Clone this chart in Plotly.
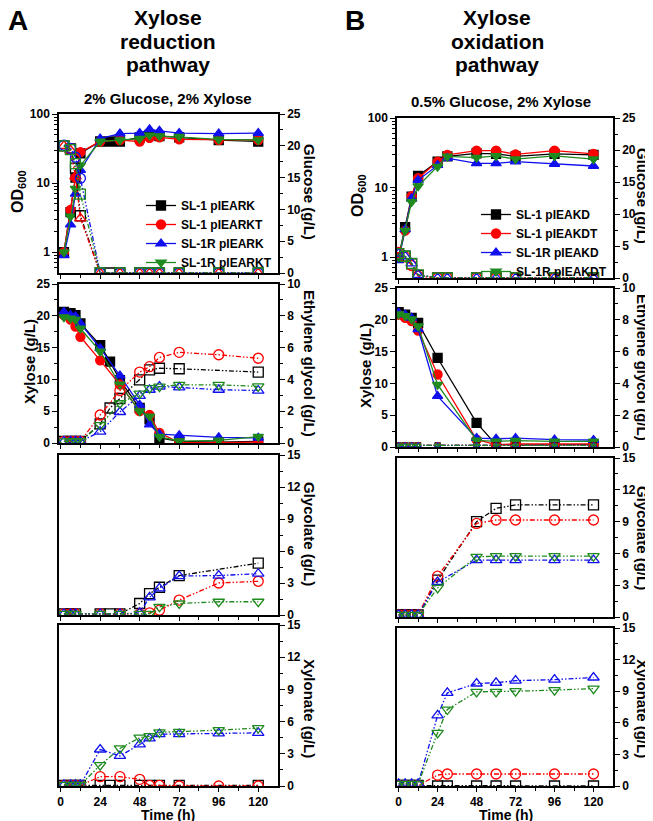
import plotly.graph_objects as go
from plotly.subplots import make_subplots

W, H = 653, 821
OFF = 8  # page body margin
FONT = "Liberation Sans, Arial, sans-serif"

# ---------------- data: panel A (xylose reduction pathway) ----------------
tA = [2, 6, 9, 12, 24, 30, 36, 48, 54, 60, 72, 96, 120]
strainsA = ["SL-1 pIEARK", "SL-1 pIEARKT", "SL-1R pIEARK", "SL-1R pIEARKT"]

od_A = [
    [1.0, 3.8, 12, 27, 40, 40, 40, 46, 50, 48, 46, 42, 40],
    [1.0, 4.1, 12, 28, 40, None, 42, 40, 45, 46, 43, 42, 42],
    [0.9, 2.5, 7.0, 15.4, 44, None, 52, 53, 60, 57, 53, 52, 53],
    [1.0, 3.3, 8.3, 18, 40, None, 42, 44, 49, 48, 47, 43, 42],
]
glucose_A = [
    [20.0, 19.5, 16.5, 9.0, 0, 0, 0, 0, 0, 0, 0, 0, 0],
    [20.0, 19.3, 15.2, 8.6, 0, None, 0, 0, 0, 0, 0, 0, 0],
    [20.1, 19.6, 18.2, 14.9, 0, None, 0, 0, 0, 0, 0, 0, 0],
    [20.0, 19.4, 17.2, 12.4, 0, None, 0, 0, 0, 0, 0, 0, 0],
]
xylose_A = [
    [20.6, 20.4, 20.1, 18.8, 15.4, 12.8, 9.9, 5.5, 3.7, 0.8, 0.26, 0.15, 0.25],
    [20.1, 19.4, 18.3, 16.7, 13.0, None, 9.2, 5.0, 4.4, 1.6, 0.05, 0.05, 0.15],
    [20.6, 20.1, 19.9, 18.8, 14.9, None, 10.6, 6.0, 2.9, 1.4, 1.2, 0.9, 0.8],
    [19.8, 19.6, 19.4, 18.0, 14.4, None, 9.2, 5.0, 4.2, 1.0, 0.3, 0.4, 1.0],
]
eg_A = [
    [0.1, 0.1, 0.1, 0.1, 1.2, 2.2, 2.8, 3.97, 4.6, 4.7, 4.67, None, 4.46],
    [0.1, 0.1, 0.1, 0.1, 1.76, None, 3.3, 4.46, 4.8, 5.38, 5.7, 5.55, 5.33],
    [0.1, 0.1, 0.1, 0.1, 0.71, None, 1.95, 2.97, 3.35, 3.55, 3.5, 3.35, 3.3],
    [0.1, 0.1, 0.1, 0.1, 1.13, None, 2.5, 3.1, 3.45, 3.55, 3.66, 3.66, 3.56],
]
glycolate_A = [
    [0.1, 0.1, 0.1, None, 0.1, 0.1, 0.1, 1.08, 2.0, 2.6, 3.7, None, 4.86],
    [0.1, 0.1, 0.1, None, 0.1, None, 0.1, 0.1, 0.2, 0.45, 1.4, 3.0, 3.16],
    [0.1, 0.1, 0.1, None, 0.1, None, 0.1, 0.2, 1.65, 2.5, 3.65, 3.7, 3.87],
    [0.1, 0.1, 0.1, None, 0.1, None, 0.1, 0.1, 0.1, 0.77, 1.08, 1.24, 1.24],
]
xylonate_A = [
    [0.05, 0.05, 0.05, 0.05, 0.05, 0.05, 0.05, 0.05, 0.05, 0.05, 0.05, None, 0.05],
    [0.05, 0.05, 0.05, 0.05, 0.87, None, 0.87, 0.62, 0.05, 0.05, 0.0, 0.0, 0.0],
    [0.1, 0.1, 0.1, 0.1, 3.4, None, 2.8, 3.87, 4.43, 4.83, 4.83, 4.9, 4.95],
    [0.1, 0.1, 0.1, 0.1, 1.95, None, 3.5, 4.5, 4.64, 5.0, 5.05, 5.2, 5.4],
]

# ---------------- data: panel B (xylose oxidation pathway) ----------------
tB = [0, 4, 8, 12, 24, 30, 48, 60, 72, 96, 120]
strainsB = ["SL-1 pIEAKD", "SL-1 pIEAKDT", "SL-1R pIEAKD", "SL-1R pIEAKDT"]

od_B = [
    [1.0, 2.7, 7.4, 14.7, 23.6, 28, 31, 30.5, 28, 30.5, 29.5],
    [1.0, 2.4, 7.5, 13.6, 23.6, 29.5, 34, 34, 30, 34, 30.5],
    [0.9, 2.5, 7.0, 12.8, 21, 26.5, 22.3, 22.3, 23.6, 21.8, 20.4],
    [1.0, 2.4, 6.2, 10.5, 20, 28, 27, 28.5, 25.6, 28.5, 25.6],
]
glucose_B = [
    [3.8, 3.4, 2.2, 0.4, 0, 0, 0, 0, 0, 0, 0],
    [4.0, 3.3, 1.95, 0.3, 0, 0, 0, 0, 0, 0, 0],
    [3.8, 3.4, 2.3, 0.5, 0, 0, 0, 0, 0, 0, 0],
    [3.8, 3.4, 2.3, 0.5, 0, 0, 0, 0, 0, 0, 0],
]
xylose_B = [
    [21.2, 20.8, 20.3, 19.5, 14.0, None, 3.8, 0.37, 0.3, 0.37, 0.37],
    [20.8, 20.3, 19.8, 18.3, 11.4, None, 1.15, 0.37, 0.47, 0.47, 0.47],
    [21.1, 20.8, 20.3, 18.5, 8.0, None, 1.4, 1.3, 1.4, 1.15, 1.1],
    [20.9, 20.6, 20.1, 19.0, 9.8, None, 1.05, 0.9, 1.0, 0.9, 0.9],
]
eg_B = [
    [0.1, 0.1, 0.1, 0.1, 0.1, None, 0.1, 0.1, 0.1, 0.1, 0.1],
    [0.1, 0.1, 0.1, 0.1, 0.1, None, 0.1, 0.1, 0.1, 0.1, 0.1],
    [0.1, 0.1, 0.1, 0.1, 0.1, None, 0.1, 0.1, 0.1, 0.1, 0.1],
    [0.1, 0.1, 0.1, 0.1, 0.1, None, 0.1, 0.1, 0.1, 0.1, 0.1],
]
glycolate_B = [
    [0.2, 0.2, 0.2, 0.2, 3.47, None, 9.0, 10.25, 10.57, 10.57, 10.57],
    [0.2, 0.2, 0.2, 0.2, 3.85, None, 8.83, 9.15, 9.15, 9.15, 9.15],
    [0.2, 0.2, 0.2, 0.2, 3.3, None, 5.36, 5.36, 5.36, 5.36, 5.36],
    [0.2, 0.2, 0.2, 0.2, 2.75, None, 5.68, 5.74, 5.74, 5.74, 5.74],
]
xylonate_B = [
    [0.05, 0.05, 0.05, 0.05, 0.0, 0.0, 0.0, 0.0, 0.0, 0.0, 0.0],
    [0.05, 0.05, 0.05, 0.05, 1.04, 1.14, 1.14, 1.14, 1.14, 1.14, 1.14],
    [0.2, 0.2, 0.2, 0.2, 6.7, 8.84, 9.73, 9.8, 10.0, 10.1, 10.3],
    [0.2, 0.2, 0.2, 0.2, 5.05, 7.26, 8.94, 8.94, 9.0, 9.1, 9.25],
]

colors = ["#000000", "#ff0000", "#1010ee", "#1f8a1f"]
filled = ["square", "circle", "triangle-up", "triangle-down"]
opened = ["square-open", "circle-open", "triangle-up-open", "triangle-down-open"]
glc_open_A = ["square-open", "triangle-up-open", "circle-open", "square-open"]
glc_open_B = ["square-open", "circle-open", "triangle-up-open", "square-open"]
DASH = "5px,2px,1.5px,2px,1.5px,2px"

# ---------------- layout geometry (window pixels) ----------------
cols_px = [(59, 278), (397, 613)]
rows_px = [
    [(114, 273), (284, 443), (455, 615), (625, 786)],
    [(118, 278), (288, 447), (458, 617), (628, 786)],
]


def px(x):
    return (x - OFF) / W


def py(y):
    return 1 - (y - OFF) / H


# rows 3-4 have a single (right-hand) scale, so no secondary axis there
fig = make_subplots(rows=4, cols=2,
                    specs=[[{"secondary_y": True}] * 2] * 2 + [[{}, {}]] * 2)


def add_series(r, c, sec, t, ys, syms, names=None, solid=False, legend=None, size=9):
    for i, y in enumerate(ys):
        kw = dict(secondary_y=sec) if r <= 2 else {}
        fig.add_trace(go.Scatter(
            x=t, y=y, mode="lines+markers", connectgaps=True,
            name=names[i] if names else "series",
            showlegend=legend is not None, legend=legend,
            line=dict(color=colors[i], width=1.3, dash="solid" if solid else DASH),
            marker=dict(symbol=syms[i], size=size, color=colors[i],
                        line=dict(color=colors[i], width=1.3)),
        ), row=r, col=c, **kw)


tickfont = dict(family=FONT, size=12, color="black", weight="bold")
axis_common = dict(showline=True, linecolor="black", linewidth=1.5, showgrid=False,
                   zeroline=False, tickfont=tickfont, automargin=False,
                   ticks="outside", ticklen=5, tickwidth=1.3, tickcolor="black")


def minor(vals):
    return dict(tickvals=vals, ticks="outside", ticklen=3, tickwidth=1, tickcolor="black")


panels = [
    (tA, [(od_A, glucose_A, glc_open_A), (xylose_A, eg_A), glycolate_A, xylonate_A],
     strainsA, "legend"),
    (tB, [(od_B, glucose_B, glc_open_B), (xylose_B, eg_B), glycolate_B, xylonate_B],
     strainsB, "legend2"),
]

for ci, (t, data, strains, leg) in enumerate(panels):
    c = ci + 1
    x0, x1 = cols_px[ci]
    for ri, (top, bot) in enumerate(rows_px[ci]):
        r = ri + 1
        yd = [py(bot), py(top)]
        fig.update_xaxes(
            axis_common, domain=[px(x0), px(x1)], range=[-1, 132], mirror=True,
            tickvals=[0, 24, 48, 72, 96, 120], showticklabels=(r == 4), ticklen=4,
            minor=minor([12, 36, 60, 84, 108]), row=r, col=c)
        if r == 1:
            left = dict(axis_common, domain=yd, type="log", range=[-0.30103, 2],
                        tickvals=[1, 10, 100], ticktext=["1", "10", "100"],
                        minor=minor([0.6, 0.7, 0.8, 0.9, 2, 3, 4, 5, 6, 7, 8, 9,
                                     20, 30, 40, 50, 60, 70, 80, 90]))
            right = dict(axis_common, domain=yd, range=[0, 25],
                         tickvals=[0, 5, 10, 15, 20, 25],
                         minor=minor([2.5, 7.5, 12.5, 17.5, 22.5]))
            od, glc, gsym = data[0]
            add_series(r, c, True, t, glc, gsym, size=10)
            add_series(r, c, False, t, od, filled, strains, solid=True, legend=leg, size=9)
            fig.update_yaxes(left, row=r, col=c, secondary_y=False)
            fig.update_yaxes(right, side="right", row=r, col=c, secondary_y=True)
        elif r == 2:
            left = dict(axis_common, domain=yd, range=[0, 25],
                        tickvals=[0, 5, 10, 15, 20, 25],
                        minor=minor([2.5, 7.5, 12.5, 17.5, 22.5]))
            right = dict(axis_common, domain=yd, range=[0, 10],
                         tickvals=[0, 2, 4, 6, 8, 10], minor=minor([1, 3, 5, 7, 9]))
            xyl, eg = data[1]
            add_series(r, c, True, t, eg, opened, size=10 if c == 1 else 5)
            add_series(r, c, False, t, xyl, filled, solid=True, size=9)
            fig.update_yaxes(left, row=r, col=c, secondary_y=False)
            fig.update_yaxes(right, side="right", row=r, col=c, secondary_y=True)
        else:
            only = dict(axis_common, domain=yd, range=[0, 15], side="right", mirror=True,
                        tickvals=[0, 3, 6, 9, 12, 15],
                        minor=minor([1.5, 4.5, 7.5, 10.5, 13.5]))
            add_series(r, c, False, t, data[ri], opened, size=10)
            fig.update_yaxes(only, row=r, col=c)

legend_style = dict(
    bgcolor="rgba(0,0,0,0)", borderwidth=0, xanchor="right", yanchor="middle",
    font=dict(family=FONT, size=12, color="black", weight="bold"),
    tracegroupgap=0, itemwidth=30,
)

ann = []


def text(x, y, s, size, angle=0, anchor="center"):
    ann.append(dict(x=px(x), y=py(y), xref="paper", yref="paper", text=s,
                    showarrow=False, textangle=angle, xanchor=anchor, yanchor="middle",
                    font=dict(family=FONT, size=size, color="black", weight="bold")))


text(6, 21, "A", 28, anchor="left")
text(343, 21, "B", 28, anchor="left")
for i, s in enumerate(["Xylose", "reduction", "pathway"]):
    text(168, 17 + 24 * i, s, 21)
for i, s in enumerate(["Xylose", "oxidation", "pathway"]):
    text(497, 17 + 24 * i, s, 21)
text(168, 98, "2% Glucose, 2% Xylose", 15)
text(501, 102, "0.5% Glucose, 2% Xylose", 15)

# axis titles
text(18, 192, "OD<sub>600</sub>", 16, angle=-90)
text(358, 196, "OD<sub>600</sub>", 16, angle=-90)
text(29, 362, "Xylose (g/L)", 15, angle=-90)
text(366, 366, "Xylose (g/L)", 15, angle=-90)
for xr, off in ((310, 0), (643, 4)):
    text(xr, 192 + off, "Glucose (g/L)", 15, angle=90)
    text(xr, 363 + off, "Ethylene glycol (g/L)", 15, angle=90)
    text(xr, 534 + off, "Glycolate (g/L)", 15, angle=90)
    text(xr, 708, "Xylonate (g/L)", 15, angle=90)
text(168, 815, "Time (h)", 14)
text(506, 815, "Time (h)", 14)

fig.update_layout(
    width=W, height=H, margin=dict(l=0, r=0, t=0, b=0),
    paper_bgcolor="white", plot_bgcolor="white",
    font=dict(family=FONT, color="black"),
    legend=dict(legend_style, x=px(277), y=py(234)),
    legend2=dict(legend_style, x=px(612), y=py(243)),
    annotations=ann,
)
fig.write_html("out.html")
